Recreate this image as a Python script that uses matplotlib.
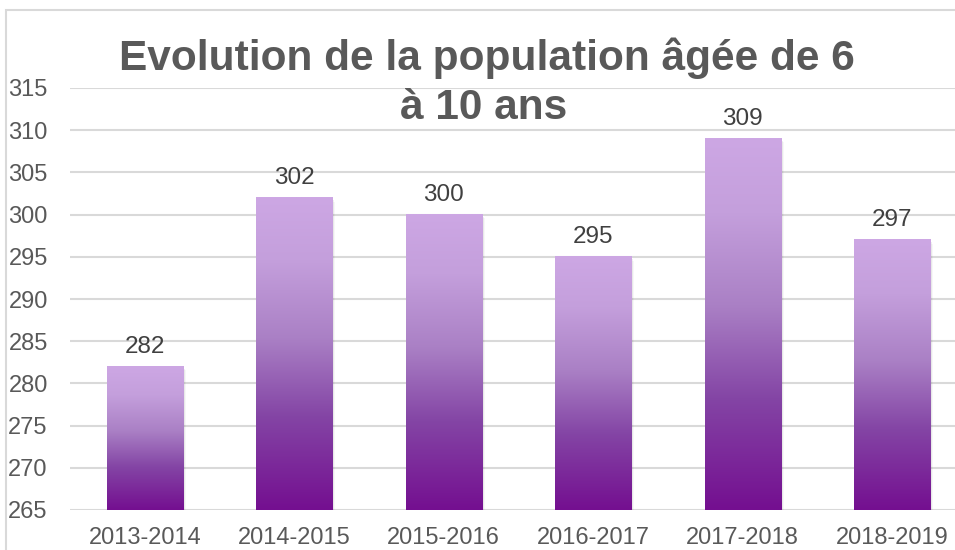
import numpy as np
import matplotlib.pyplot as plt
from matplotlib.colors import LinearSegmentedColormap
from matplotlib.patches import Rectangle

# données
annees = ["2013-2014", "2014-2015", "2015-2016", "2016-2017", "2017-2018", "2018-2019"]
population = [282, 302, 300, 295, 309, 297]
yticks = [265, 270, 275, 280, 285, 290, 295, 300, 305, 310, 315]
titre = ["Evolution de la population âgée de 6", "à 10 ans"]

plt.rcParams['font.family'] = ['Liberation Sans', 'DejaVu Sans']

fig = plt.figure(figsize=(9.55, 5.5), dpi=100)
ax = fig.add_axes([70 / 955, 40 / 550, 897 / 955, 422 / 550])

# cadre du graphique
fig.patches.append(Rectangle((6 / 955, -0.1), 1.2, 1.1 - 10 / 550,
                             transform=fig.transFigure, fill=False,
                             edgecolor='#d9d9d9', linewidth=1.5, zorder=0))

# dégradé violet (bas foncé -> haut clair)
cmap = LinearSegmentedColormap.from_list(
    "violet", [(0.0, "#740F90"), (0.3, "#8445A5"), (0.55, "#AA80C5"),
               (0.8, "#C49FDC"), (1.0, "#CDA7E4")])
grad = np.linspace(0, 1, 256).reshape(-1, 1)

x = np.arange(len(annees))
largeur = 0.51
ymin, ymax = 265, 315

bars = ax.bar(x, np.array(population) - ymin, largeur, bottom=ymin,
              color='none', edgecolor='none', zorder=3)
for b, v in zip(bars, population):
    x0 = b.get_x()
    # ombre légère
    for k, a in enumerate([0.10, 0.06, 0.03]):
        ax.add_patch(Rectangle((x0 + 0.006 * (k + 1), ymin - 0.15 * (k + 1)), largeur,
                               v - ymin, facecolor='#000000', alpha=a,
                               edgecolor='none', zorder=2))
    ax.imshow(grad, extent=(x0, x0 + largeur, ymin, v), origin='lower',
              cmap=cmap, aspect='auto', zorder=3)
    ax.text(x0 + largeur / 2, v + 1.65, str(v), ha='center', va='baseline',
            fontsize=17.5, color='#404040', zorder=4)

ax.set_xlim(-0.5, len(annees) - 0.5)
ax.set_ylim(ymin, ymax)
ax.set_yticks(yticks)
ax.set_xticks(x)
ax.set_xticklabels(annees)
ax.tick_params(axis='y', length=0, pad=16, labelsize=17, labelcolor='#595959')
ax.tick_params(axis='x', length=0, pad=12, labelsize=17, labelcolor='#595959')
ax.grid(axis='y', color='#d9d9d9', linewidth=1.5, zorder=0)
ax.set_axisbelow(True)
for s in ax.spines.values():
    s.set_visible(False)

# titre sur deux lignes
for ligne, (cx, base) in zip(titre, [(486.5, 70), (484, 119)]):
    fig.text(cx / 955, 1 - base / 550, ligne, ha='center', va='baseline',
             fontsize=30.5, fontweight='bold', color='#595959')

fig.savefig("out.png", dpi=100)
